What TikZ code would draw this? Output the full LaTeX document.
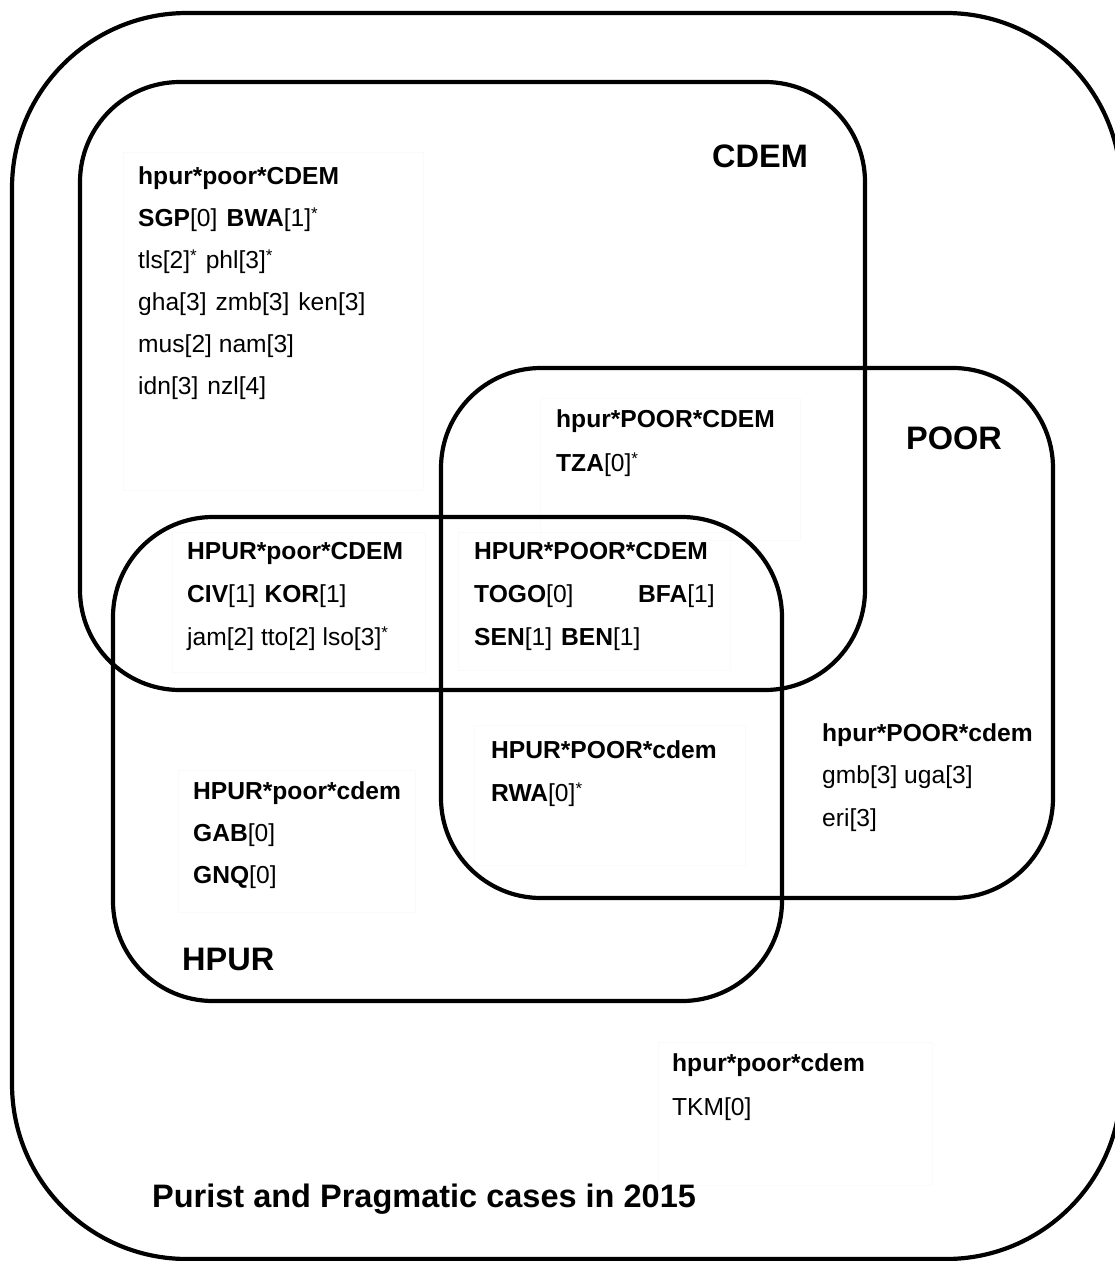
\documentclass[tikz,border=0pt]{standalone}
\usepackage{fontspec}
\setmainfont{Liberation Sans}
\newcommand{\bx}[1]{\textbf{#1}}
\newcommand{\gapw}{\hspace{9pt}}
\newcommand{\smstar}{{\fontsize{17}{17}\selectfont\raisebox{7pt}{*}}}
\begin{document}
\begin{tikzpicture}[x=1pt,y=-1pt,
  setline/.style={line width=4.2pt, rounded corners=100pt},
  txt/.style={anchor=base west, inner sep=0pt, font=\fontsize{24.6}{28}\selectfont},
  hd/.style={txt, font=\fontsize{24.6}{28}\selectfont\bfseries},
  big/.style={anchor=base west, inner sep=0pt, font=\fontsize{32.5}{36}\selectfont\bfseries},
  faint/.style={draw=black!2, line width=1pt}]
\useasboundingbox (0,0) rectangle (1115,1261);
\fill[white] (0,0) rectangle (1115,1261);
\begin{scope}
\clip (0,0) rectangle (1115,1261);
% outer universe
\draw[line width=4.2pt, rounded corners=175pt] (12,13) rectangle (1121,1259);
\end{scope}
% faint boxes
\draw[faint] (123,152) rectangle (423,490);
\draw[faint] (540,398) rectangle (800,540);
\draw[faint] (172,532) rectangle (425,672);
\draw[faint] (458,532) rectangle (730,670);
\draw[faint] (474,725) rectangle (745,865);
\draw[faint] (178,770) rectangle (415,912);
\draw[faint] (658,1042) rectangle (932,1185);
% sets
\draw[setline] (80,82) rectangle (865,690);
\draw[setline] (441,368) rectangle (1053,898);
\draw[setline] (113,517) rectangle (782,1001);
% set labels
\node[big] (lcdem) at (712,167) {CDEM};
\node[big] (lpoor) at (906,449) {POOR};
\node[big] (lhpur) at (182,970) {HPUR};
\node[big] (title) at (152,1207) {Purist and Pragmatic cases in 2015};
% block 1
\node[hd] (b1h) at (138,184) {hpur*poor*CDEM};
\node[txt] (b1a) at (138,226) {\bx{SGP}[0]\gapw\bx{BWA}[1]\smstar};
\node[txt] (b1b) at (138,268) {tls[2]\smstar\gapw phl[3]\smstar};
\node[txt] (b1c) at (138,310) {gha[3]\gapw zmb[3]\gapw ken[3]};
\node[txt] (b1d) at (138,352) {mus[2] nam[3]};
\node[txt] (b1e) at (138,394) {idn[3]\gapw nzl[4]};
% block 2
\node[hd] (b2h) at (556,427) {hpur*POOR*CDEM};
\node[txt] (b2a) at (556,471) {\bx{TZA}[0]\smstar};
% block 3
\node[hd] (b3h) at (187,559) {HPUR*poor*CDEM};
\node[txt] (b3a) at (187,602) {\bx{CIV}[1]\gapw\bx{KOR}[1]};
\node[txt] (b3b) at (187,645) {jam[2] tto[2] lso[3]\smstar};
% block 4
\node[hd] (b4h) at (474,559) {HPUR*POOR*CDEM};
\node[txt] (b4a) at (474,602) {\bx{TOGO}[0]};
\node[txt] (b4b) at (638,602) {\bx{BFA}[1]};
\node[txt] (b4c) at (474,645) {\bx{SEN}[1]\gapw\bx{BEN}[1]};
% block 5
\node[hd] (b5h) at (491,758) {HPUR*POOR*cdem};
\node[txt] (b5a) at (491,801) {\bx{RWA}[0]\smstar};
% block 6
\node[hd] (b6h) at (193,799) {HPUR*poor*cdem};
\node[txt] (b6a) at (193,841) {\bx{GAB}[0]};
\node[txt] (b6b) at (193,883) {\bx{GNQ}[0]};
% block 7
\node[hd] (b7h) at (822,741) {hpur*POOR*cdem};
\node[txt] (b7a) at (822,783) {gmb[3] uga[3]};
\node[txt] (b7b) at (822,826) {eri[3]};
% block 8
\node[hd] (b8h) at (672,1071) {hpur*poor*cdem};
\node[txt] (b8a) at (672,1115) {TKM[0]};
\end{tikzpicture}
\end{document}
